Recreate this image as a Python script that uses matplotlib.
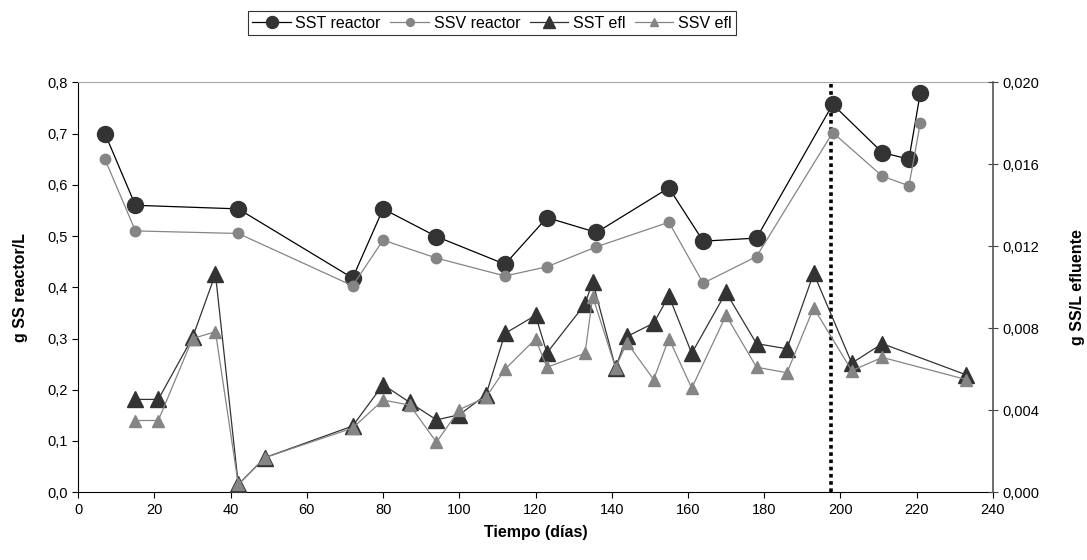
import matplotlib
matplotlib.use("Agg")
import matplotlib.pyplot as plt
from matplotlib.ticker import FuncFormatter

plt.rcParams['font.family'] = ['Liberation Sans', 'DejaVu Sans']

# Reactor solids (g/L)
dias_reactor = [7, 15, 42, 72, 80, 94, 112, 123, 136, 155, 164, 178, 198, 211, 218, 221]
sst_reactor = [0.700, 0.560, 0.553, 0.418, 0.553, 0.499, 0.445, 0.536, 0.507,
               0.594, 0.490, 0.496, 0.757, 0.663, 0.650, 0.780]
ssv_reactor = [0.650, 0.510, 0.505, 0.403, 0.492, 0.457, 0.422, 0.440, 0.479,
               0.527, 0.408, 0.460, 0.702, 0.617, 0.598, 0.721]

# Effluent solids (g/L)
dias_efl = [15, 21, 30, 36, 42, 49, 72, 80, 87, 94, 100, 107, 112, 120, 123, 133,
            135, 141, 144, 151, 155, 161, 170, 178, 186, 193, 203, 211, 233]
sst_efl = [0.00453, 0.00453, 0.00755, 0.01065, 0.00038, 0.00169, 0.00323, 0.00525,
           0.00438, 0.00353, 0.00378, 0.00475, 0.00775, 0.00863, 0.00680, 0.00918,
           0.01028, 0.00608, 0.00760, 0.00825, 0.00958, 0.00678, 0.00975, 0.00725,
           0.00700, 0.01068, 0.00630, 0.00725, 0.00573]
ssv_efl = [0.00350, 0.00350, 0.00750, 0.00783, 0.00038, 0.00169, 0.00313, 0.00450,
           0.00425, 0.00244, 0.00403, 0.00463, 0.00600, 0.00748, 0.00610, 0.00678,
           0.00955, 0.00608, 0.00730, 0.00550, 0.00750, 0.00508, 0.00863, 0.00610,
           0.00583, 0.00900, 0.00593, 0.00658, 0.00550]

dia_cambio = 197.5

x_ticks = list(range(0, 241, 20))
y_ticks = [0.0, 0.1, 0.2, 0.3, 0.4, 0.5, 0.6, 0.7, 0.8]
y2_ticks = [0.000, 0.004, 0.008, 0.012, 0.016, 0.020]

oscuro = '#333333'
gris = '#858585'

fig = plt.figure(figsize=(10.87, 5.60), dpi=100)
ax = fig.add_axes([0.072, 0.121, 0.8413, 0.732])
ax2 = ax.twinx()

l1, = ax.plot(dias_reactor, sst_reactor, color='black', lw=0.9, marker='o',
              ms=11.5, mfc=oscuro, mec=oscuro, label='SST reactor', zorder=3)
l2, = ax.plot(dias_reactor, ssv_reactor, color=gris, lw=0.9, marker='o',
              ms=7.5, mfc=gris, mec=gris, label='SSV reactor', zorder=4)
l3, = ax2.plot(dias_efl, sst_efl, color=oscuro, lw=0.9, marker='^',
               ms=12, mfc=oscuro, mec=oscuro, label='SST efl', zorder=3)
l4, = ax2.plot(dias_efl, ssv_efl, color=gris, lw=0.9, marker='^',
               ms=8.5, mfc=gris, mec=gris, label='SSV efl', zorder=4)

ax.axvline(dia_cambio, color='black', lw=2.6, ls=(0, (1, 1)), zorder=2)

ax.set_xlim(0, 240)
ax.set_ylim(0, 0.8)
ax2.set_ylim(0, 0.020)
ax.set_xticks(x_ticks)
ax.set_yticks(y_ticks)
ax2.set_yticks(y2_ticks)

coma = lambda fmt: FuncFormatter(lambda v, p: fmt.format(v).replace('.', ','))
ax.yaxis.set_major_formatter(coma('{:.1f}'))
ax2.yaxis.set_major_formatter(coma('{:.3f}'))

for a in (ax, ax2):
    a.tick_params(labelsize=10.5, colors='black')
ax.tick_params(axis='y', direction='out', length=4, width=0.8)
ax.tick_params(axis='x', direction='out', length=4, width=0.8)
ax2.tick_params(axis='y', direction='inout', length=7, width=0.8, color='#444444')

ax.spines['top'].set_color('#a8a8a8')
ax.spines['right'].set_visible(False)
ax.spines['left'].set_color('black')
ax.spines['bottom'].set_color('black')
for s in ('top', 'left', 'bottom'):
    ax2.spines[s].set_visible(False)
ax2.spines['right'].set_color('#555555')
ax2.spines['right'].set_linewidth(1.2)

ax.set_xlabel('Tiempo (días)', fontsize=11.5, fontweight='bold', labelpad=6)
ax.set_ylabel('g SS reactor/L', fontsize=11.5, fontweight='bold', labelpad=14)
ax2.set_ylabel('g SS/L efluente', fontsize=11.5, fontweight='bold', labelpad=22)

leg = fig.legend(handles=[l1, l2, l3, l4], loc='upper center',
                 bbox_to_anchor=(0.4526, 0.995), ncol=4, fontsize=11.5,
                 frameon=True, fancybox=False, handlelength=2.4,
                 handletextpad=0.3, columnspacing=0.6, borderpad=0.3,
                 markerscale=0.75)
leg.get_frame().set_edgecolor('black')
leg.get_frame().set_linewidth(0.8)

fig.savefig('out.png', dpi=100)
